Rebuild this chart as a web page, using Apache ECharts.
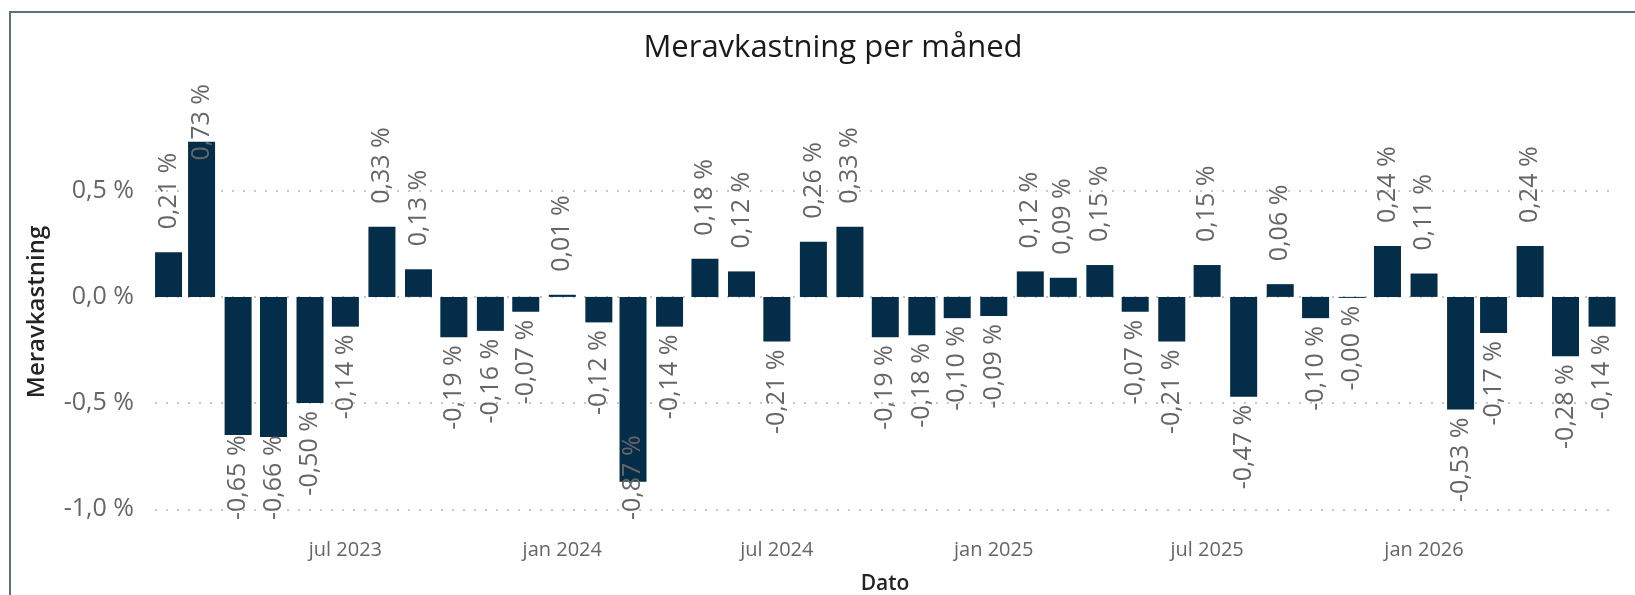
<!DOCTYPE html>
<html><head><meta charset="utf-8">
<script src="https://cdn.jsdelivr.net/npm/echarts@6/dist/echarts.min.js"></script>
<style>html,body{margin:0;padding:0;background:#fff;overflow:hidden}#c{width:1635px;height:595px}</style>
</head><body><div id="c"></div>
<script>
// ---- data ----
const months = ['2023-02','2023-03','2023-04','2023-05','2023-06','2023-07','2023-08','2023-09','2023-10','2023-11','2023-12',
  '2024-01','2024-02','2024-03','2024-04','2024-05','2024-06','2024-07','2024-08','2024-09','2024-10','2024-11','2024-12',
  '2025-01','2025-02','2025-03','2025-04','2025-05','2025-06','2025-07','2025-08','2025-09','2025-10','2025-11','2025-12',
  '2026-01','2026-02','2026-03','2026-04','2026-05','2026-06'];
const values = [0.21,0.73,-0.65,-0.66,-0.50,-0.14,0.33,0.13,-0.19,-0.16,-0.07,
  0.01,-0.12,-0.87,-0.14,0.18,0.12,-0.21,0.26,0.33,-0.19,-0.18,-0.10,
  -0.09,0.12,0.09,0.15,-0.07,-0.21,0.15,-0.47,0.06,-0.10,-0.004,0.24,
  0.11,-0.53,-0.17,0.24,-0.28,-0.14];
const xTickMonths = ['2023-07','2024-01','2024-07','2025-01','2025-07','2026-01'];
const yTicks = [-1.0, -0.5, 0.0, 0.5];
const monthNames = ['jan','feb','mar','apr','mai','jun','jul','aug','sep','okt','nov','des'];
const titleText = 'Meravkastning per måned';
const yTitle = 'Meravkastning';
const xTitle = 'Dato';

// ---- helpers ----
const FONT = "'Segoe UI', 'Open Sans', sans-serif";
const LABEL_SIZE = 25;
const DAY = 86400000;
function toTs(m){ const p = m.split('-'); return Date.UTC(+p[0], +p[1]-1, 1); }
function fmtPct(v){ return v.toFixed(2).replace('.', ',') + ' %'; }
const ts = months.map(toTs);
const tickTs = xTickMonths.map(toTs);

const chart = echarts.init(document.getElementById('c'), null, {renderer:'canvas'});

function labelCfg(v, dist){
  return v >= 0
    ? {position:'top', align:'left', verticalAlign:'middle', rotate:90, distance:dist}
    : {position:'bottom', align:'right', verticalAlign:'middle', rotate:90, distance:dist};
}
function buildData(dists){
  return values.map((v,i)=>({value:[ts[i], v], label: labelCfg(v, dists[i])}));
}

const baseDists = values.map(v => v >= 0 ? 23 : 8);

const option = {
  animation:false,
  backgroundColor:'#ffffff',
  textStyle:{fontFamily:FONT},
  graphic:[
    {type:'rect', z:-1, shape:{x:10, y:12, width:2000, height:2000}, style:{fill:'none', stroke:'#5e707b', lineWidth:2}},
    {type:'text', x:833, y:48, style:{text:titleText, align:'center', verticalAlign:'middle', fontSize:31, fontFamily:FONT, fill:'#1a1a1a'}},
    {type:'text', x:37, y:312, rotation:Math.PI/2, style:{text:yTitle, align:'center', verticalAlign:'middle', fontSize:24, fontWeight:600, fontFamily:FONT, fill:'#252423'}}
  ],
  grid:{left:155, right:20, top:190.7, bottom:85.7, containLabel:false, outerBoundsMode:'none'},
  xAxis:{
    type:'value',
    min: ts[0] - 11.5*DAY,
    max: ts[ts.length-1] + 11*DAY,
    axisLine:{show:false}, axisTick:{show:false}, splitLine:{show:false},
    axisLabel:{
      customValues: tickTs,
      fontSize:20, color:'#666666', margin:31, fontFamily:FONT,
      formatter:function(v){ const d = new Date(v); return monthNames[d.getUTCMonth()] + ' ' + d.getUTCFullYear(); }
    },
    name:xTitle, nameLocation:'middle', nameGap:64,
    nameTextStyle:{fontSize:21, fontWeight:600, color:'#252423', fontFamily:FONT}
  },
  yAxis:{
    type:'value', min:yTicks[0], max:yTicks[yTicks.length-1], interval:0.5,
    axisLine:{show:false}, axisTick:{show:false},
    axisLabel:{fontSize:25, color:'#666666', margin:21, fontFamily:FONT,
      formatter:function(v){ return v.toFixed(1).replace('.', ',') + ' %'; }},
    splitLine:{show:true, lineStyle:{color:'#c8c6c4', width:2, type:[2,9]}}
  },
  series:[{
    type:'bar',
    clip:false,
    barWidth:27,
    barMinHeight:1,
    itemStyle:{color:'#032d48'},
    label:{show:true, fontSize:LABEL_SIZE, color:'#666666', fontFamily:FONT,
      formatter:function(p){ return fmtPct(p.value[1]); }},
    data: buildData(baseDists)
  }]
};
chart.setOption(option);

// keep labels inside the visual bounds (like the original)
const TOP_LIMIT = 84, BOTTOM_LIMIT = 520;
const ctx = document.createElement('canvas').getContext('2d');
ctx.font = LABEL_SIZE + 'px ' + FONT;
const dists = values.map((v,i)=>{
  const p = chart.convertToPixel({gridIndex:0}, [ts[i], v]);
  const endY = p[1];
  const len = ctx.measureText(fmtPct(v)).width;
  let d = baseDists[i];
  if (v >= 0) { if (endY - d - len < TOP_LIMIT) d = endY - len - TOP_LIMIT; }
  else { if (endY + d + len > BOTTOM_LIMIT) d = BOTTOM_LIMIT - len - endY; }
  return d;
});
chart.setOption({series:[{data: buildData(dists)}]});
</script>
</body></html>
